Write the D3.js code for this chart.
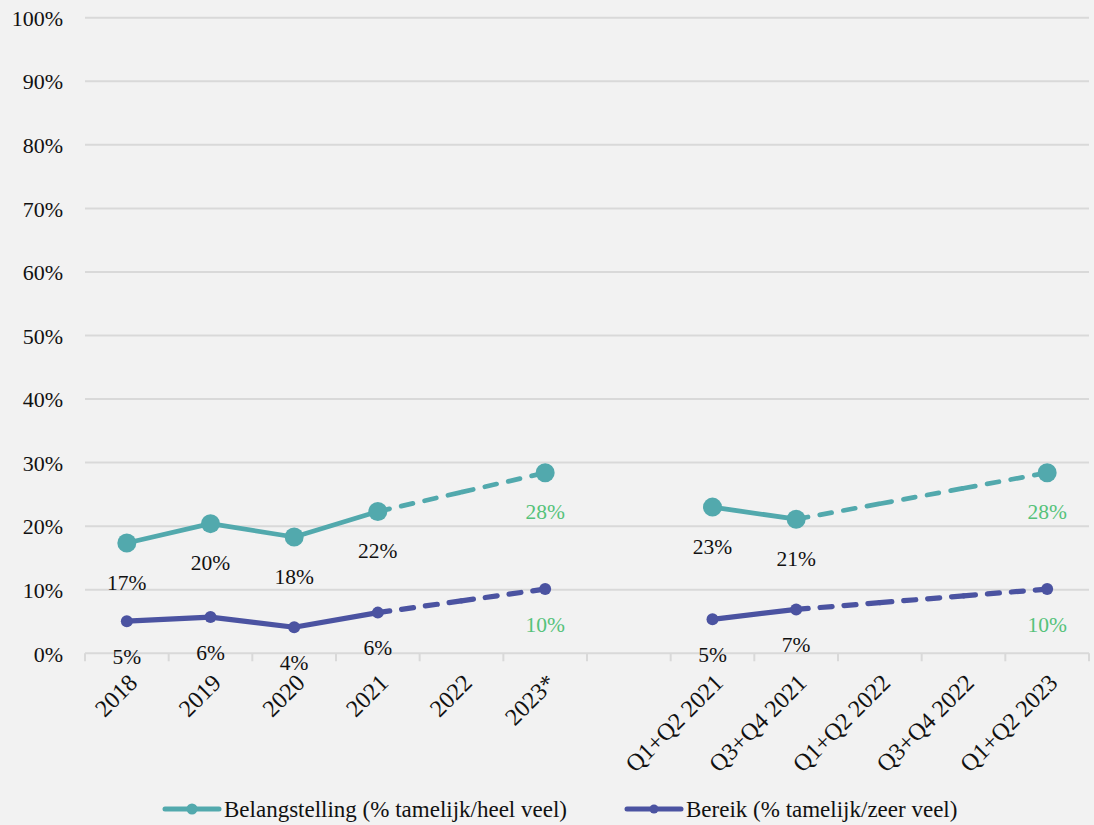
<!DOCTYPE html>
<html>
<head>
<meta charset="utf-8">
<script src="https://cdn.jsdelivr.net/npm/d3@7"></script>
<style>
  html, body { margin: 0; padding: 0; background: #f2f2f2; }
  svg { display: block; }
  text { font-family: "Liberation Serif", "Times New Roman", serif; }
</style>
</head>
<body>
<svg id="chart" width="1094" height="825"></svg>
<script>
// ---- data ----
const categories = ["2018", "2019", "2020", "2021", "2022", "2023*", "",
  "Q1+Q2 2021", "Q3+Q4 2021", "Q1+Q2 2022", "Q3+Q4 2022", "Q1+Q2 2023"];
const belangstelling = [17.35, 20.4, 18.3, 22.3, null, 28.4, null, 23.0, 21.1, null, null, 28.4];
const bereik = [5.05, 5.7, 4.1, 6.4, null, 10.1, null, 5.35, 6.9, null, null, 10.1];
const projected = [false, false, false, false, false, true, false, false, false, false, false, true];
const yTicks = [0, 10, 20, 30, 40, 50, 60, 70, 80, 90, 100];
const seriesNames = ["Belangstelling (% tamelijk/heel veel)", "Bereik (% tamelijk/zeer veel)"];

// ---- layout / style ----
const W = 1094, H = 825;
const plotLeft = 85, plotRight = 1089, plotTop = 17.7, plotBottom = 653.3;
const colors = { teal: "#52a9ad", purple: "#4b53a1", green: "#55c27a", grid: "#d9d9d9", text: "#111" };

const svg = d3.select("#chart");
svg.append("rect").attr("width", W).attr("height", H).attr("fill", "#f2f2f2");

const x = d3.scaleBand().domain(categories).range([plotLeft, plotRight]).padding(0);
const y = d3.scaleLinear().domain([0, 100]).range([plotBottom, plotTop]);
const cx = i => x(categories[i]) + x.bandwidth() / 2;

// gridlines
svg.append("g").selectAll("line").data(yTicks).join("line")
  .attr("x1", plotLeft).attr("x2", plotRight)
  .attr("y1", d => y(d)).attr("y2", d => y(d))
  .attr("stroke", colors.grid).attr("stroke-width", 2);

// y axis labels
const yAxis = svg.append("g").attr("transform", `translate(${plotLeft - 22},0)`)
  .call(d3.axisLeft(y).tickValues(yTicks).tickSize(0).tickFormat(d => d + "%"));
yAxis.select(".domain").remove();
yAxis.selectAll("text").attr("font-size", 22).attr("fill", colors.text)
  .attr("font-family", "Liberation Serif, serif").attr("x", 0).attr("dy", "0.35em");

// x tick marks at category boundaries
const boundaries = categories.map(c => x(c)).concat([plotRight]);
svg.append("g").selectAll("line").data(boundaries).join("line")
  .attr("x1", d => d).attr("x2", d => d)
  .attr("y1", plotBottom).attr("y2", plotBottom + 8)
  .attr("stroke", colors.grid).attr("stroke-width", 2);

// x labels
const xAxis = svg.append("g").attr("transform", `translate(0,${plotBottom})`)
  .call(d3.axisBottom(x).tickSize(0).tickFormat(d => d));
xAxis.select(".domain").remove();
xAxis.selectAll(".tick text")
  .attr("font-size", 24).attr("fill", colors.text)
  .attr("font-family", "Liberation Serif, serif")
  .attr("text-anchor", "end")
  .attr("x", 0).attr("y", 0).attr("dy", "0.35em")
  .attr("transform", "translate(6,25) rotate(-45)");

// ---- series ----
function drawSeries(values, color, width, r, labelOffset) {
  const g = svg.append("g");
  const idx = values.map((v, i) => v == null ? null : i).filter(i => i != null);
  const groupOf = i => (i < 6 ? 0 : 1);
  for (let k = 0; k + 1 < idx.length; k++) {
    const i = idx[k], j = idx[k + 1];
    if (groupOf(i) !== groupOf(j)) continue;
    const x0 = cx(i), y0 = y(values[i]), x1 = cx(j), y1 = y(values[j]);
    if (projected[j]) {
      // dashed, restarting the dash pattern at every category
      for (let m = i; m < j; m++) {
        const t0 = (m - i) / (j - i), t1 = (m + 1 - i) / (j - i);
        g.append("line")
          .attr("x1", x0 + (x1 - x0) * t0).attr("y1", y0 + (y1 - y0) * t0)
          .attr("x2", x0 + (x1 - x0) * t1).attr("y2", y0 + (y1 - y0) * t1)
          .attr("stroke", color).attr("stroke-width", width)
          .attr("stroke-linecap", "round").attr("stroke-dasharray", "12,12");
      }
    } else {
      g.append("path")
        .attr("d", d3.line()([[x0, y0], [x1, y1]]))
        .attr("stroke", color).attr("stroke-width", width)
        .attr("stroke-linecap", "round").attr("fill", "none");
    }
  }
  g.selectAll("circle").data(idx).join("circle")
    .attr("cx", i => cx(i)).attr("cy", i => y(values[i])).attr("r", r)
    .attr("fill", color);
  g.selectAll("text").data(idx).join("text")
    .attr("x", i => cx(i)).attr("y", i => y(values[i]) + labelOffset)
    .attr("dy", "0.35em").attr("text-anchor", "middle")
    .attr("font-size", 21.5)
    .attr("fill", i => projected[i] ? colors.green : colors.text)
    .text(i => Math.round(values[i]) + "%");
}

drawSeries(belangstelling, colors.teal, 4.75, 9.5, 39);
drawSeries(bereik, colors.purple, 5.25, 6, 35);

// ---- legend ----
const legendY = 809;
const legendItems = [
  { name: seriesNames[0], color: colors.teal, x0: 165, x1: 219, r: 5.5, tx: 224 },
  { name: seriesNames[1], color: colors.purple, x0: 627, x1: 681, r: 4.5, tx: 686 }
];
const lg = svg.append("g").selectAll("g").data(legendItems).join("g");
lg.append("line").attr("x1", d => d.x0).attr("x2", d => d.x1)
  .attr("y1", legendY).attr("y2", legendY)
  .attr("stroke", d => d.color).attr("stroke-width", 5).attr("stroke-linecap", "round");
lg.append("circle").attr("cx", d => (d.x0 + d.x1) / 2).attr("cy", legendY).attr("r", d => d.r)
  .attr("fill", d => d.color);
lg.append("text").attr("x", d => d.tx).attr("y", legendY).attr("dy", "0.35em")
  .attr("font-size", 23).attr("fill", colors.text).text(d => d.name);
</script>
</body>
</html>
